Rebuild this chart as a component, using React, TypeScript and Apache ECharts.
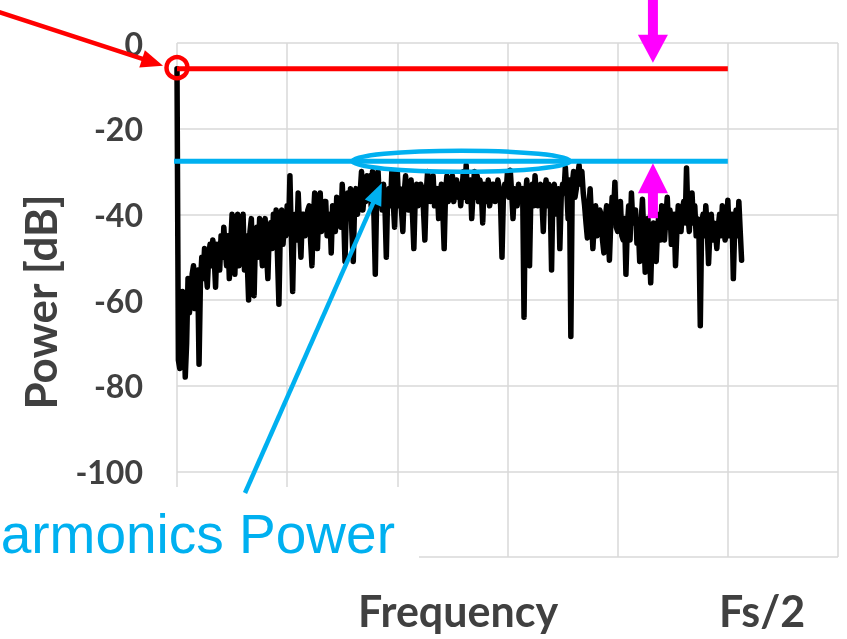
import React, { useEffect, useRef } from "react";
import * as echarts from "echarts";

// frequency bin spacing, as a fraction of Fs/2
const freqStep = 0.0025;

// spectrum power in dB, one value per bin
const powerDb = [
  -6, -74, -76, -72, -58, -66, -78, -70, -55, -63,
  -60, -54, -52, -62, -58, -53, -75, -56, -50, -55,
  -48, -53, -57, -50, -47, -52, -46, -50, -57, -47,
  -48, -53, -45, -50, -43, -48, -52, -45, -55, -47,
  -40, -49, -54, -44, -40, -52, -50, -43, -40, -53,
  -45, -51, -60, -44, -41, -52, -59, -45, -43, -50,
  -41, -47, -52, -43, -41, -49, -55, -44, -42, -48,
  -40, -46, -39, -50, -61, -44, -39, -47, -42, -45,
  -38, -44, -31, -45, -58, -42, -40, -46, -35, -43,
  -50, -40, -40, -45, -43, -39, -38, -46, -52, -41,
  -35, -42, -48, -38, -35, -44, -41, -37, -37, -45,
  -43, -40, -49, -38, -39, -44, -36, -42, -37, -43,
  -33, -40, -51, -38, -35, -41, -34, -44, -51, -37,
  -34, -40, -38, -35, -30, -39, -35, -37, -31, -36,
  -31, -38, -30, -40, -54, -36, -30, -37, -34, -39,
  -33, -38, -50, -35, -34, -38, -30, -37, -43, -34,
  -30, -38, -34, -39, -44, -35, -31, -37, -39, -34,
  -32, -40, -48, -36, -33, -38, -36, -33, -34, -39,
  -46, -35, -30, -36, -37, -33, -31, -38, -36, -34,
  -41, -36, -33, -39, -48, -35, -31, -37, -36, -33,
  -31, -37, -34, -32, -36, -33, -38, -34, -30, -36,
  -28.5, -37, -34, -32, -41, -35, -30, -36, -31, -37,
  -32, -35, -42, -33, -34, -37, -32, -38, -36, -33,
  -33, -37, -35, -32, -34, -38, -50, -36, -33, -35,
  -30, -36, -29.7, -35, -41, -34, -35, -38, -33, -37,
  -36, -34, -64, -36, -32, -37, -52, -35, -33, -38,
  -31, -36, -38, -34, -33, -37, -44, -35, -32, -38,
  -33, -36, -53, -34, -33, -37, -40, -34, -48, -36,
  -33, -35, -29, -34, -41, -32, -68.5, -33, -30, -36,
  -34, -31, -28.5, -33, -30, -35, -38, -42, -45.5, -39,
  -34, -41, -48, -42, -38, -45, -43, -39, -40, -46,
  -49, -41, -38, -44, -50.7, -42, -36, -40, -32.5, -43,
  -44, -40, -37, -45, -46, -41, -54, -43, -38, -46,
  -35, -42, -42, -39, -46.7, -43, -51, -42, -36.5, -45,
  -53.5, -44, -41, -48, -56, -45, -42, -47, -51, -43,
  -40, -46, -38, -44, -46, -41, -36, -43, -39, -47,
  -43, -40, -52, -44, -38, -42, -44, -39, -37, -42,
  -29.2, -40, -44, -38, -35, -42, -38, -45, -41, -44,
  -66, -42, -40, -45, -38, -43, -51.5, -44, -40, -46,
  -42, -44, -48, -43, -40, -45, -38, -42, -46, -44,
  -36.7, -45, -42, -40, -55, -43, -39, -45, -37, -44,
  -50.7,
];

// reference levels (dB)
const fundamentalDb = -6;
const harmonicsDb = -27.6;

// axis settings
const yMin = -120;
const yMax = 0;
const yStep = 20;
const xMin = 0;
const xMax = 1.2;
const xStep = 0.2;
const nyquist = 1.0;

const labels = {
  yTitle: "Power [dB]",
  xTitle: "Frequency",
  nyquist: "Fs/2",
  annotation: "armonics Power",
};

const RED = "#ff0000";
const BLUE = "#00b0f0";
const MAGENTA = "#ff00ff";
const GREY = "#404040";

function arrowParts(x1: number, y1: number, x2: number, y2: number, headLen: number, headW: number, color: string, lw: number, z: number) {
  const dx = x2 - x1;
  const dy = y2 - y1;
  const len = Math.sqrt(dx * dx + dy * dy);
  const ux = dx / len;
  const uy = dy / len;
  const bx = x2 - ux * headLen;
  const by = y2 - uy * headLen;
  const px = -uy;
  const py = ux;
  return [
    {
      type: "line",
      z,
      shape: { x1, y1, x2: bx + ux * 2, y2: by + uy * 2 },
      style: { stroke: color, lineWidth: lw },
    },
    {
      type: "polygon",
      z,
      shape: {
        points: [
          [x2, y2],
          [bx + (px * headW) / 2, by + (py * headW) / 2],
          [bx - (px * headW) / 2, by - (py * headW) / 2],
        ],
      },
      style: { fill: color },
    },
  ];
}

export default function App() {
  const ref = useRef<HTMLDivElement>(null);

  useEffect(() => {
    const chart = echarts.init(ref.current!, null, { renderer: "svg" });
    const spectrum = powerDb.map((v, i) => [i * freqStep, v]);

    chart.setOption({
      animation: false,
      grid: { left: 177, top: 43, right: 9, bottom: 82, containLabel: false },
      xAxis: {
        type: "value",
        min: xMin,
        max: xMax,
        interval: xStep,
        axisLabel: { show: false },
        axisLine: { show: false },
        axisTick: { show: false },
        splitLine: { show: true, lineStyle: { color: "#d9d9d9", width: 1.5 } },
      },
      yAxis: {
        type: "value",
        min: yMin,
        max: yMax,
        interval: yStep,
        axisLine: { show: false },
        axisTick: { show: false },
        axisLabel: {
          formatter: (v: number) => (v === yMin ? "" : String(v)),
          fontFamily: "Lato",
          fontWeight: "bold",
          fontSize: 32,
          color: GREY,
          margin: 34,
        },
        splitLine: { show: true, lineStyle: { color: "#d9d9d9", width: 1.5 } },
      },
      series: [
        {
          type: "line",
          data: spectrum,
          symbol: "none",
          z: 3,
          lineStyle: { color: "#000000", width: 5.5, join: "round", cap: "round" },
        },
        {
          type: "line",
          data: [
            [xMin, fundamentalDb],
            [nyquist, fundamentalDb],
          ],
          symbol: "none",
          z: 4,
          lineStyle: { color: RED, width: 5 },
        },
        {
          type: "line",
          data: [
            [xMin - 0.009, harmonicsDb],
            [nyquist, harmonicsDb],
          ],
          clip: false,
          symbol: "none",
          z: 5,
          lineStyle: { color: BLUE, width: 5 },
        },
      ],
    });

    const px = (x: number, y: number) => chart.convertToPixel({ gridIndex: 0 }, [x, y]) as number[];

    const fund = px(xMin, fundamentalDb);
    const downTip = px(0.864, fundamentalDb);
    const upTip = px(0.864, harmonicsDb);
    const ellC = px(0.516, harmonicsDb);
    const blueTip = px(0.372, -32.7);

    const g: any[] = [];
    // white box behind the annotation text
    g.push({ type: "rect", z: 50, shape: { x: 0, y: 487, width: 419, height: 85 }, style: { fill: "#ffffff" } });
    g.push({
      type: "text",
      z: 51,
      x: 395,
      y: 534,
      style: {
        text: labels.annotation,
        font: "55px 'Liberation Sans', Arial, sans-serif",
        fill: BLUE,
        textAlign: "right",
        textVerticalAlign: "middle",
      },
    });
    // red circle on fundamental
    g.push({
      type: "circle",
      z: 60,
      shape: { cx: fund[0], cy: fund[1] - 1, r: 10.5 },
      style: { fill: "none", stroke: RED, lineWidth: 4.5 },
    });
    g.push(...arrowParts(-4, 11, fund[0] - 14, fund[1] - 3, 22, 18, RED, 4.5, 60));
    // magenta arrows
    const sw = 10;
    const hw = 30;
    const hl = 28;
    g.push({ type: "rect", z: 60, shape: { x: downTip[0] - sw / 2, y: 0, width: sw, height: downTip[1] - hl - 5 }, style: { fill: MAGENTA } });
    g.push({
      type: "polygon",
      z: 60,
      shape: { points: [[downTip[0] - hw / 2, downTip[1] - hl - 6], [downTip[0] + hw / 2, downTip[1] - hl - 6], [downTip[0], downTip[1] - 6]] },
      style: { fill: MAGENTA },
    });
    g.push({
      type: "polygon",
      z: 60,
      shape: { points: [[upTip[0], upTip[1] + 2], [upTip[0] - hw / 2, upTip[1] + 32], [upTip[0] + hw / 2, upTip[1] + 32]] },
      style: { fill: MAGENTA },
    });
    g.push({ type: "rect", z: 60, shape: { x: upTip[0] - sw / 2, y: upTip[1] + 31, width: sw, height: 26 }, style: { fill: MAGENTA } });
    // blue ellipse and arrow
    g.push({
      type: "ellipse",
      z: 60,
      shape: { cx: ellC[0], cy: ellC[1], rx: 109, ry: 10.5 },
      style: { fill: "none", stroke: BLUE, lineWidth: 4.5 },
    });
    g.push(...arrowParts(245, 493, blueTip[0], blueTip[1], 22, 18, BLUE, 4.5, 60));
    // axis titles
    g.push({
      type: "text",
      z: 51,
      x: 40,
      y: 302,
      rotation: Math.PI / 2,
      style: { text: labels.yTitle, font: "bold 44px Lato", fill: GREY, textAlign: "center", textVerticalAlign: "middle" },
    });
    g.push({
      type: "text",
      z: 51,
      x: 458,
      y: 610,
      style: { text: labels.xTitle, font: "bold 43px Lato", fill: GREY, textAlign: "center", textVerticalAlign: "middle" },
    });
    g.push({
      type: "text",
      z: 51,
      x: 762,
      y: 610,
      style: { text: labels.nyquist, font: "bold 43px Lato", fill: GREY, textAlign: "center", textVerticalAlign: "middle" },
    });

    chart.setOption({ graphic: { elements: g } });
    return () => chart.dispose();
  }, []);

  return <div ref={ref} style={{ position: "fixed", left: 0, top: 0, width: 847, height: 639 }} />;
}
